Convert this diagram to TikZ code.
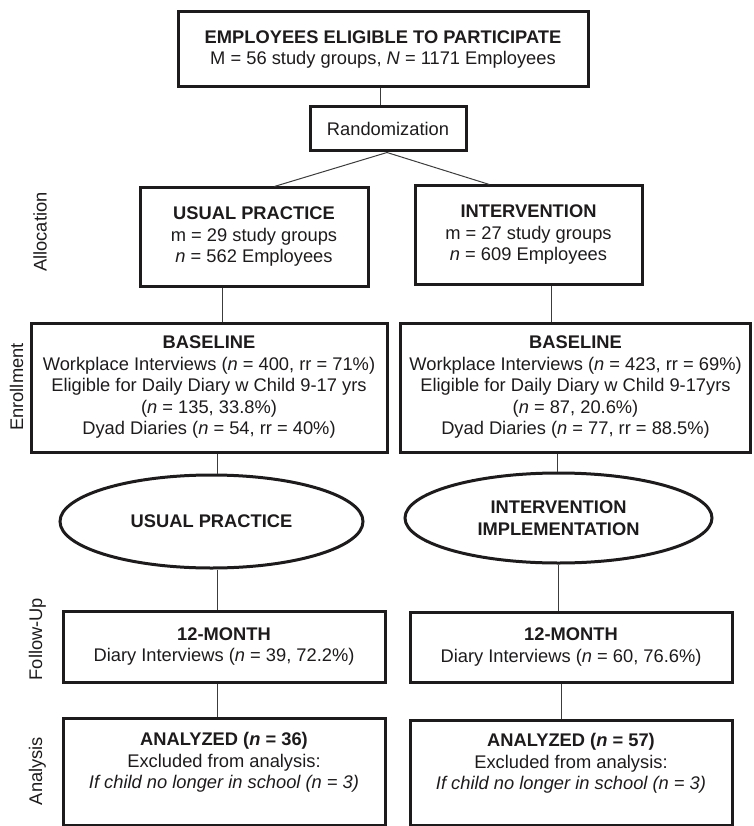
\documentclass[tikz,border=0pt]{standalone}
\usepackage{fontspec}
\setmainfont{Liberation Sans}
\usetikzlibrary{shapes.geometric,calc}
\definecolor{ink}{RGB}{30,27,28}
\definecolor{wirec}{RGB}{60,60,60}
\begin{document}
\begin{tikzpicture}[x=1pt,y=-1pt,
  box/.style={draw=ink,line width=3pt,rectangle,align=center,inner sep=0pt,text=ink,font=\fontsize{18.3}{21.5}\selectfont},
  oval/.style={draw=ink,line width=3pt,ellipse,inner sep=0pt,align=center,text=ink,font=\fontsize{18.3}{21.5}\selectfont\bfseries},
  wire/.style={draw=wirec,line width=1pt},
  phase/.style={rotate=90,inner sep=0pt,text=ink,font=\fontsize{18.3}{21.5}\selectfont}]
\useasboundingbox (0,0) rectangle (753,826);

% boxes
\node[box,minimum width=410,minimum height=75,font=\fontsize{18.3}{20.5}\selectfont] (top) at (383,49.5)
  {\textbf{EMPLOYEES ELIGIBLE TO PARTICIPATE}\\ M = 56 study groups, \textit{N} = 1171 Employees};
\node[box,minimum width=156,minimum height=44] (rand) at (388,129) {Randomization};
\node[box,minimum width=228,minimum height=98] (usual) at (254,237)
  {\textbf{USUAL PRACTICE}\\ m = 29 study groups\\ \textit{n} = 562 Employees};
\node[box,minimum width=227,minimum height=98] (inter) at (528.5,235)
  {\textbf{INTERVENTION}\\ m = 27 study groups\\ \textit{n} = 609 Employees};
\node[box,minimum width=356,minimum height=129] (base1) at (209,387.5)
  {\textbf{BASELINE}\\ Workplace Interviews (\textit{n} = 400, rr = 71\%)\\ Eligible for Daily Diary w Child 9-17 yrs\\ (\textit{n} = 135, 33.8\%)\\ Dyad Diaries (\textit{n} = 54, rr = 40\%)};
\node[box,minimum width=350,minimum height=129] (base2) at (575.5,387.5)
  {\textbf{BASELINE}\\ Workplace Interviews (\textit{n} = 423, rr = 69\%)\\ Eligible for Daily Diary w Child 9-17yrs\\ (\textit{n} = 87, 20.6\%)\\ Dyad Diaries (\textit{n} = 77, rr = 88.5\%)};
\node[oval,minimum width=303,minimum height=93] (oval1) at (211.5,521.5) {USUAL PRACTICE};
\node[oval,minimum width=307,minimum height=90] (oval2) at (558.5,518) {INTERVENTION\\ IMPLEMENTATION};
\node[box,minimum width=322,minimum height=71] (m12a) at (224,646.5)
  {\textbf{12-MONTH}\\ Diary Interviews (\textit{n} = 39, 72.2\%)};
\node[box,minimum width=322,minimum height=70] (m12b) at (571,647)
  {\textbf{12-MONTH}\\ Diary Interviews (\textit{n} = 60, 76.6\%)};
\node[box,minimum width=322,minimum height=107] (ana1) at (224,771.5)
  {\textbf{ANALYZED (\textit{n} = 36)}\\ Excluded from analysis:\\ \textit{If child no longer in school (n = 3)}\\ \mbox{}};
\node[box,minimum width=322,minimum height=105] (ana2) at (571,772.5)
  {\textbf{ANALYZED (\textit{n} = 57)}\\ Excluded from analysis:\\ \textit{If child no longer in school (n = 3)}\\ \mbox{}};

% phase labels
\node[phase] (lalloc) at (40,232) {Allocation};
\node[phase] (lenrol) at (16.5,387) {Enrollment};
\node[phase] (lfollow) at (37.5,639) {Follow-Up};
\node[phase] (lanaly) at (37.5,771) {Analysis};

% connectors
\draw[wire] ([xshift=-3]top.south) -- ([xshift=-3]top.south |- rand.north);
\draw[wire] ([xshift=-1]rand.south) -- ($(usual.north west)!0.588!(usual.north east)$);
\draw[wire] ([xshift=-1]rand.south) -- ($(inter.north west)!0.33!(inter.north east)$);
\draw[wire] ([xshift=-32]usual.south) -- ([xshift=-32]usual.south |- base1.north);
\draw[wire] ([xshift=22.5]inter.south) -- ([xshift=22.5]inter.south |- base2.north);
\draw[wire] ([xshift=8]base1.south) -- ([xshift=8]base1.south |- oval1.north);
\draw[wire] ([xshift=-18.5]base2.south) -- ([xshift=-18.5]base2.south |- oval2.north);
\draw[wire] ([xshift=5.5]oval1.south) -- ([xshift=5.5]oval1.south |- m12a.north);
\draw[wire] (oval2.south) -- (oval2.south |- m12b.north);
\draw[wire] ([xshift=-7]m12a.south) -- ([xshift=-7]m12a.south |- ana1.north);
\draw[wire] ([xshift=-10]m12b.south) -- ([xshift=-10]m12b.south |- ana2.north);
\end{tikzpicture}
\end{document}
